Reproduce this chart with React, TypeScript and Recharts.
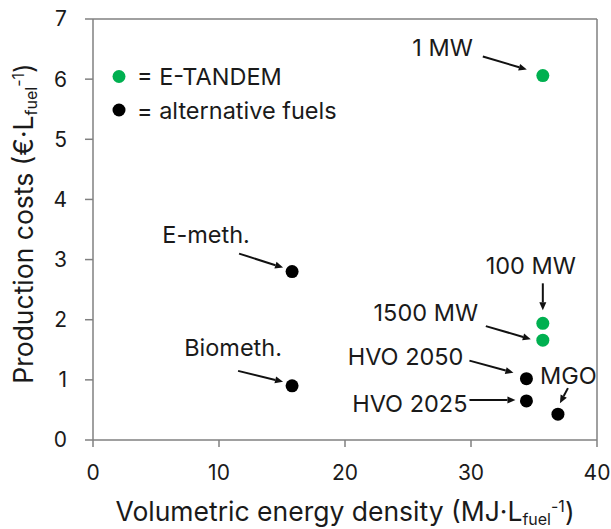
import React from "react";
import {
  ScatterChart,
  Scatter,
  XAxis,
  YAxis,
  ReferenceLine,
} from "recharts";

// ---- data ----
const tandemNames = ["1 MW", "100 MW", "1500 MW"];
const tandemEnergy = [35.7, 35.7, 35.7];
const tandemCost = [6.06, 1.94, 1.66];

const altNames = ["E-meth.", "Biometh.", "HVO 2050", "HVO 2025", "MGO"];
const altEnergy = [15.8, 15.8, 34.4, 34.4, 36.9];
const altCost = [2.8, 0.9, 1.02, 0.65, 0.43];

const xTicks = [0, 10, 20, 30, 40];
const yTicks = [0, 1, 2, 3, 4, 5, 6, 7];

const legendLabels = ["= E-TANDEM", "= alternative fuels"];

const tandemData = tandemNames.map((name, i) => ({ name, x: tandemEnergy[i], y: tandemCost[i] }));
const altData = altNames.map((name, i) => ({ name, x: altEnergy[i], y: altCost[i] }));

// ---- styling / annotation layout (offsets relative to the point) ----
const FONT = "Inter, 'Noto Sans', sans-serif";
const GREEN = "#00B050";
const AXIS = "#808080";
const TEXT = "#1a1a1a";
const ANN_SIZE = 23.5;

type Ann = {
  tx: number;
  ty: number;
  anchor: "start" | "middle" | "end";
  ax1: number;
  ay1: number;
  ax2: number;
  ay2: number;
};

const annotations: Record<string, Ann> = {
  "1 MW": { tx: -70, ty: -28, anchor: "end", ax1: -60, ay1: -19, ax2: -16, ay2: -6 },
  "100 MW": { tx: -12, ty: -58, anchor: "middle", ax1: 0, ay1: -40, ax2: 0, ay2: -13 },
  "1500 MW": { tx: -117, ty: -28, anchor: "middle", ax1: -57, ay1: -14, ax2: -12, ay2: -1 },
  "E-meth.": { tx: -86, ty: -37, anchor: "middle", ax1: -53, ay1: -18, ax2: -9, ay2: -4 },
  "Biometh.": { tx: -59, ty: -38, anchor: "middle", ax1: -54, ay1: -15, ax2: -9, ay2: -4 },
  "HVO 2050": { tx: -63, ty: -22, anchor: "end", ax1: -57, ay1: -18, ax2: -13, ay2: -6 },
  "HVO 2025": { tx: -59, ty: 3, anchor: "end", ax1: -57, ay1: -1, ax2: -11, ay2: -1 },
  MGO: { tx: -18, ty: -39, anchor: "start", ax1: 10, ay1: -26, ax2: 2, ay2: -11 },
};

function Arrow({ x1, y1, x2, y2 }: { x1: number; y1: number; x2: number; y2: number }) {
  const dx = x2 - x1;
  const dy = y2 - y1;
  const len = Math.sqrt(dx * dx + dy * dy) || 1;
  const ux = dx / len;
  const uy = dy / len;
  const hl = 8;
  const hw = 3.5;
  const bx = x2 - ux * hl;
  const by = y2 - uy * hl;
  const p1 = `${x2},${y2}`;
  const p2 = `${bx - uy * hw},${by + ux * hw}`;
  const p3 = `${bx + uy * hw},${by - ux * hw}`;
  return (
    <g>
      <line x1={x1} y1={y1} x2={bx} y2={by} stroke="#111" strokeWidth={2} />
      <polygon points={`${p1} ${p2} ${p3}`} fill="#111" />
    </g>
  );
}

const makeShape = (color: string) => (props: any) => {
  const { cx, cy, payload } = props;
  const a = annotations[payload?.name];
  return (
    <g>
      <circle cx={cx} cy={cy} r={6.5} fill={color} />
      {a && (
        <g>
          <text
            x={cx + a.tx}
            y={cy + a.ty}
            textAnchor={a.anchor}
            dominantBaseline="central"
            fontFamily={FONT}
            fontSize={ANN_SIZE}
            fill={TEXT}
          >
            {payload.name}
          </text>
          <Arrow x1={cx + a.ax1} y1={cy + a.ay1} x2={cx + a.ax2} y2={cy + a.ay2} />
        </g>
      )}
    </g>
  );
};

const legendColors = [GREEN, "#000"];

const LegendLayer = () => (
  <g transform="translate(110,64)">
    {legendLabels.map((label, i) => (
      <g key={label}>
        <circle cx={9} cy={12.5 + i * 33.5} r={6.5} fill={legendColors[i]} />
        <text
          x={27}
          y={12.5 + i * 33.5}
          dominantBaseline="central"
          fontFamily={FONT}
          fontSize={ANN_SIZE}
          fill={TEXT}
        >
          {label}
        </text>
      </g>
    ))}
  </g>
);

const YTitle = (props: any) => {
  const vb = props.viewBox || {};
  const cy = (vb.y ?? 19) + (vb.height ?? 421) / 2 - 6;
  const cx = 33;
  return (
    <text
      transform={`translate(${cx},${cy}) rotate(-90)`}
      textAnchor="middle"
      fontFamily={FONT}
      fontSize={26.5}
      fill={TEXT}
    >
      Production costs (€·L
      <tspan fontSize={16} dy={4}>fuel</tspan>
      <tspan fontSize={16} dy={-13}>-1</tspan>
      <tspan dy={9}>)</tspan>
    </text>
  );
};

const XTitle = (props: any) => {
  const vb = props.viewBox || {};
  const cx = (vb.x ?? 93) + (vb.width ?? 504) / 2;
  const y = 521;
  return (
    <text x={cx} y={y} textAnchor="middle" fontFamily={FONT} fontSize={26.5} fill={TEXT}>
      Volumetric energy density (MJ·L
      <tspan fontSize={16} dy={4}>fuel</tspan>
      <tspan fontSize={16} dy={-13}>-1</tspan>
      <tspan dy={9}>)</tspan>
    </text>
  );
};

export default function App() {
  return (
    <div style={{ position: "absolute", left: 0, top: 0, width: 611, height: 529, background: "#fff" }}>
      <ScatterChart
        width={611}
        height={529}
        margin={{ top: 19, right: 14, left: 0, bottom: 0 }}
      >
        <XAxis
          type="number"
          dataKey="x"
          domain={[0, 40]}
          ticks={xTicks}
          tickSize={7}
          tickMargin={18}
          height={89}
          axisLine={{ stroke: AXIS, strokeWidth: 1.5 }}
          tickLine={{ stroke: AXIS, strokeWidth: 1.5 }}
          tick={{ fontFamily: FONT, fontSize: 21, fill: TEXT }}
          label={<XTitle />}
        />
        <YAxis
          type="number"
          dataKey="y"
          domain={[0, 7]}
          ticks={yTicks}
          tickSize={8}
          tickMargin={18}
          width={93}
          axisLine={{ stroke: AXIS, strokeWidth: 1.5 }}
          tickLine={{ stroke: AXIS, strokeWidth: 1.5 }}
          tick={{ fontFamily: FONT, fontSize: 21, fill: TEXT }}
          label={<YTitle />}
        />
        <ReferenceLine y={7} stroke={AXIS} strokeWidth={1.5} />
        <ReferenceLine x={40} stroke={AXIS} strokeWidth={1.5} />
        <Scatter
          name="E-TANDEM"
          data={tandemData}
          fill={GREEN}
          shape={makeShape(GREEN)}
          isAnimationActive={false}
        />
        <Scatter
          name="alternative fuels"
          data={altData}
          fill="#000"
          shape={makeShape("#000")}
          isAnimationActive={false}
        />
        <LegendLayer />
      </ScatterChart>
    </div>
  );
}
